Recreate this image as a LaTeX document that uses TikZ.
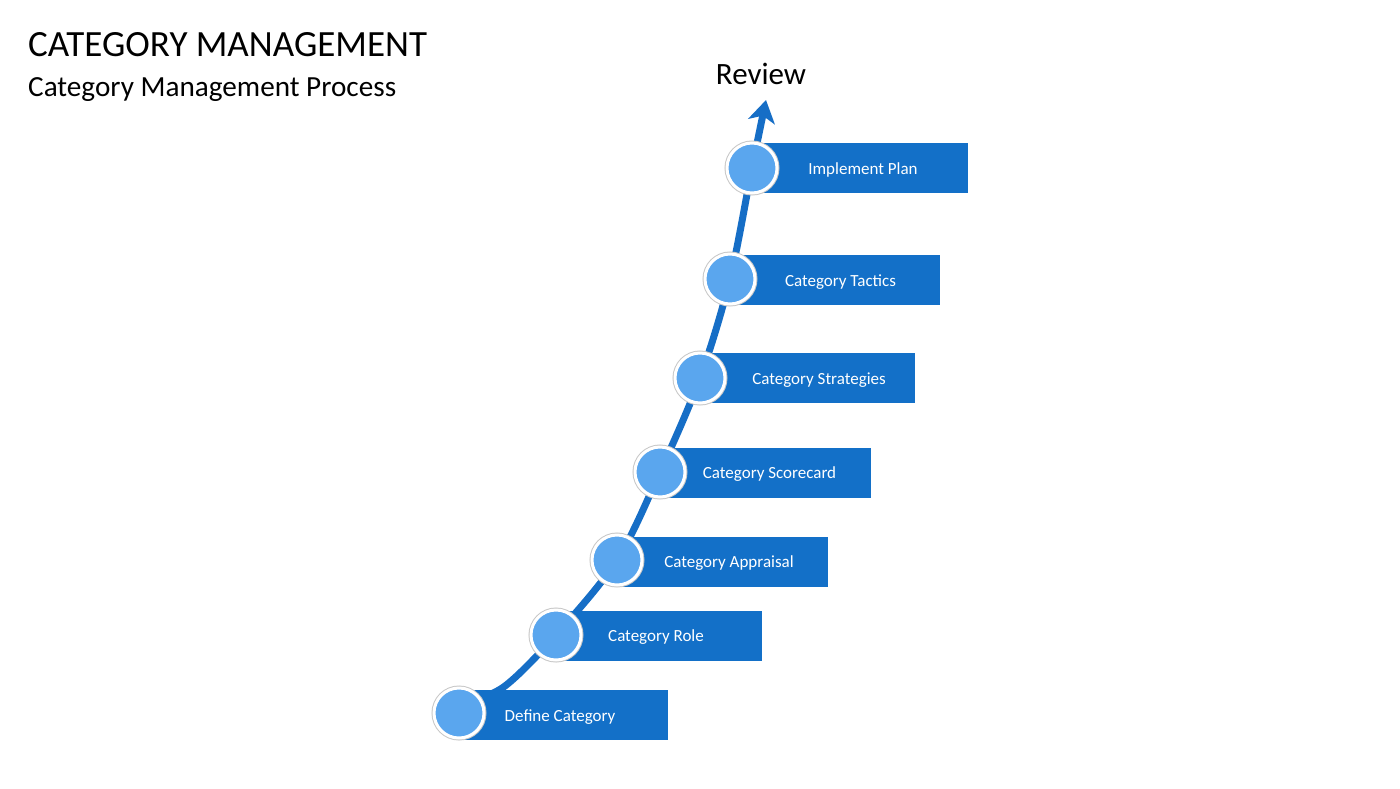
\documentclass[tikz,border=0pt]{standalone}
\usepackage{fontspec}
\setmainfont{Carlito}
\usetikzlibrary{arrows.meta}
\definecolor{barblue}{RGB}{19,112,200}
\definecolor{lineblue}{RGB}{22,110,198}
\definecolor{dotblue}{RGB}{90,166,238}
\tikzset{
  dot/.style={circle, minimum size=50pt, inner sep=0pt, fill=dotblue, draw=white, line width=3pt,
    preaction={draw=black!22, line width=5pt}},
  bar/.style={rectangle, fill=barblue, minimum height=50pt, inner sep=0pt, anchor=west},
  lbl/.style={anchor=base, inner sep=0pt, text=white, font=\fontsize{17}{20}\selectfont},
  spine/.style={draw=lineblue, line width=7pt, -{Stealth[length=22pt, width=27pt, inset=6pt]}},
}
\begin{document}
\begin{tikzpicture}[x=1pt, y=-1pt]
\useasboundingbox (0,0) rectangle (1400,788);
\fill[white] (0,0) rectangle (1400,788);

% titles
\node[anchor=base west, inner sep=0pt, font=\fontsize{37}{42}\selectfont] (title) at (28,56) {CATEGORY MANAGEMENT};
\node[anchor=base west, inner sep=0pt, font=\fontsize{29.2}{34}\selectfont] (subtitle) at (28,96) {Category Management Process};
\node[anchor=base, inner sep=0pt, font=\fontsize{31}{36}\selectfont] (review) at (761,84) {Review};

% circle positions
\coordinate (p1) at (459,713);
\coordinate (p2) at (556,635);
\coordinate (p3) at (617,560);
\coordinate (p4) at (660,472);
\coordinate (p5) at (700,378);
\coordinate (p6) at (730,279);
\coordinate (p7) at (752,168);
\coordinate (tip) at (766,100);

% spine arrow
\draw[spine] plot[smooth, tension=0.55] coordinates {(468,702) (505,686) (556,635) (617,560) (660,472) (700,378) (730,279) (752,168) (766,100)};

% bars
\node[bar, minimum width=209pt] (b1) at (459,715) {};
\node[bar, minimum width=206pt] (b2) at (556,635.5) {};
\node[bar, minimum width=211pt] (b3) at (617,561.5) {};
\node[bar, minimum width=211pt] (b4) at (660,472.5) {};
\node[bar, minimum width=215pt] (b5) at (700,378) {};
\node[bar, minimum width=210pt] (b6) at (730,280) {};
\node[bar, minimum width=216pt] (b7) at (752,168) {};

% circles
\node[dot] (c1) at (p1) {};
\node[dot] (c2) at (p2) {};
\node[dot] (c3) at (p3) {};
\node[dot] (c4) at (p4) {};
\node[dot] (c5) at (p5) {};
\node[dot] (c6) at (p6) {};
\node[dot] (c7) at (p7) {};

% labels
\node[lbl] (t1) at (560,721) {Define Category};
\node[lbl] (t2) at (656,641.5) {Category Role};
\node[lbl] (t3) at (729,567.5) {Category Appraisal};
\node[lbl] (t4) at (769.5,478.5) {Category Scorecard};
\node[lbl] (t5) at (819,384) {Category Strategies};
\node[lbl] (t6) at (840.5,286) {Category Tactics};
\node[lbl] (t7) at (863,174) {Implement Plan};
\end{tikzpicture}
\end{document}
